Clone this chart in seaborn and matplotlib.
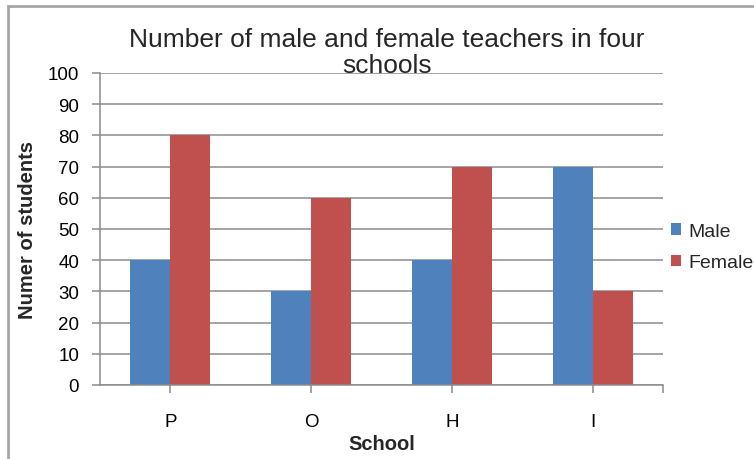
import matplotlib
matplotlib.use("Agg")
import matplotlib.pyplot as plt
from matplotlib.patches import Rectangle
import seaborn as sns
import pandas as pd

schools = ["P", "O", "H", "I"]
male = [40, 30, 40, 70]
female = [80, 60, 70, 30]
series_names = ["Male", "Female"]
y_ticks = list(range(0, 101, 10))

df = pd.DataFrame({
    "School": schools * 2,
    "Gender": [series_names[0]] * len(schools) + [series_names[1]] * len(schools),
    "Count": male + female,
})

sns.set_theme(style="white")
plt.rcParams["font.family"] = ["Liberation Sans", "DejaVu Sans"]

grid_col = "#8c8c8c"
fig = plt.figure(figsize=(7.54, 4.6), dpi=100)
ax = fig.add_axes([100 / 754, 74 / 460, 563 / 754, 312 / 460])

sns.barplot(data=df, x="School", y="Count", hue="Gender", order=schools,
            hue_order=series_names, palette=["#4F81BD", "#C0504D"],
            width=0.57, saturation=1, ax=ax, legend=True, linewidth=0)

ax.set_xlim(-0.5, 3.5)
ax.set_ylim(0, 100)
ax.set_yticks(y_ticks)
ax.set_yticklabels([str(v) for v in y_ticks], fontsize=13.5)
ax.set_xticks([0, 1, 2, 3, 3.5])
ax.set_xticklabels(schools + [""], fontsize=13.5)
ax.yaxis.grid(True, color=grid_col, linewidth=1.1)
ax.set_axisbelow(True)
for s in ["top", "right"]:
    ax.spines[s].set_visible(False)
for s in ["left", "bottom"]:
    ax.spines[s].set_color(grid_col)
    ax.spines[s].set_linewidth(1.1)
ax.tick_params(axis="y", length=6, width=1.1, color=grid_col, pad=9, labelcolor="black")
ax.tick_params(axis="x", length=6, width=1.1, color=grid_col, pad=14, labelcolor="black")
ax.tick_params(axis="both", left=True, bottom=True, direction="out")

ax.set_xlabel("School", fontsize=14.5, fontweight="bold", labelpad=3)
ax.set_ylabel("Numer of students", fontsize=14.5, fontweight="bold", labelpad=8)

leg = ax.legend(loc="center left", bbox_to_anchor=(1.0, 0.442), frameon=False,
                fontsize=14, handlelength=0.55, handleheight=0.55,
                handletextpad=0.35, labelspacing=0.75, borderaxespad=0,
                borderpad=0.4)

fig.text(0.513, 0.884, "Number of male and female teachers in four\nschools",
         ha="center", va="center", fontsize=19, linespacing=1.1)

# outer chart frame
fig.add_artist(Rectangle((8 / 754, -0.05), 1.2, (460 - 6.5) / 460 + 0.05,
                         transform=fig.transFigure, fill=False,
                         edgecolor="#a6a6a6", linewidth=2, clip_on=False))

fig.savefig("out.png", dpi=100)
